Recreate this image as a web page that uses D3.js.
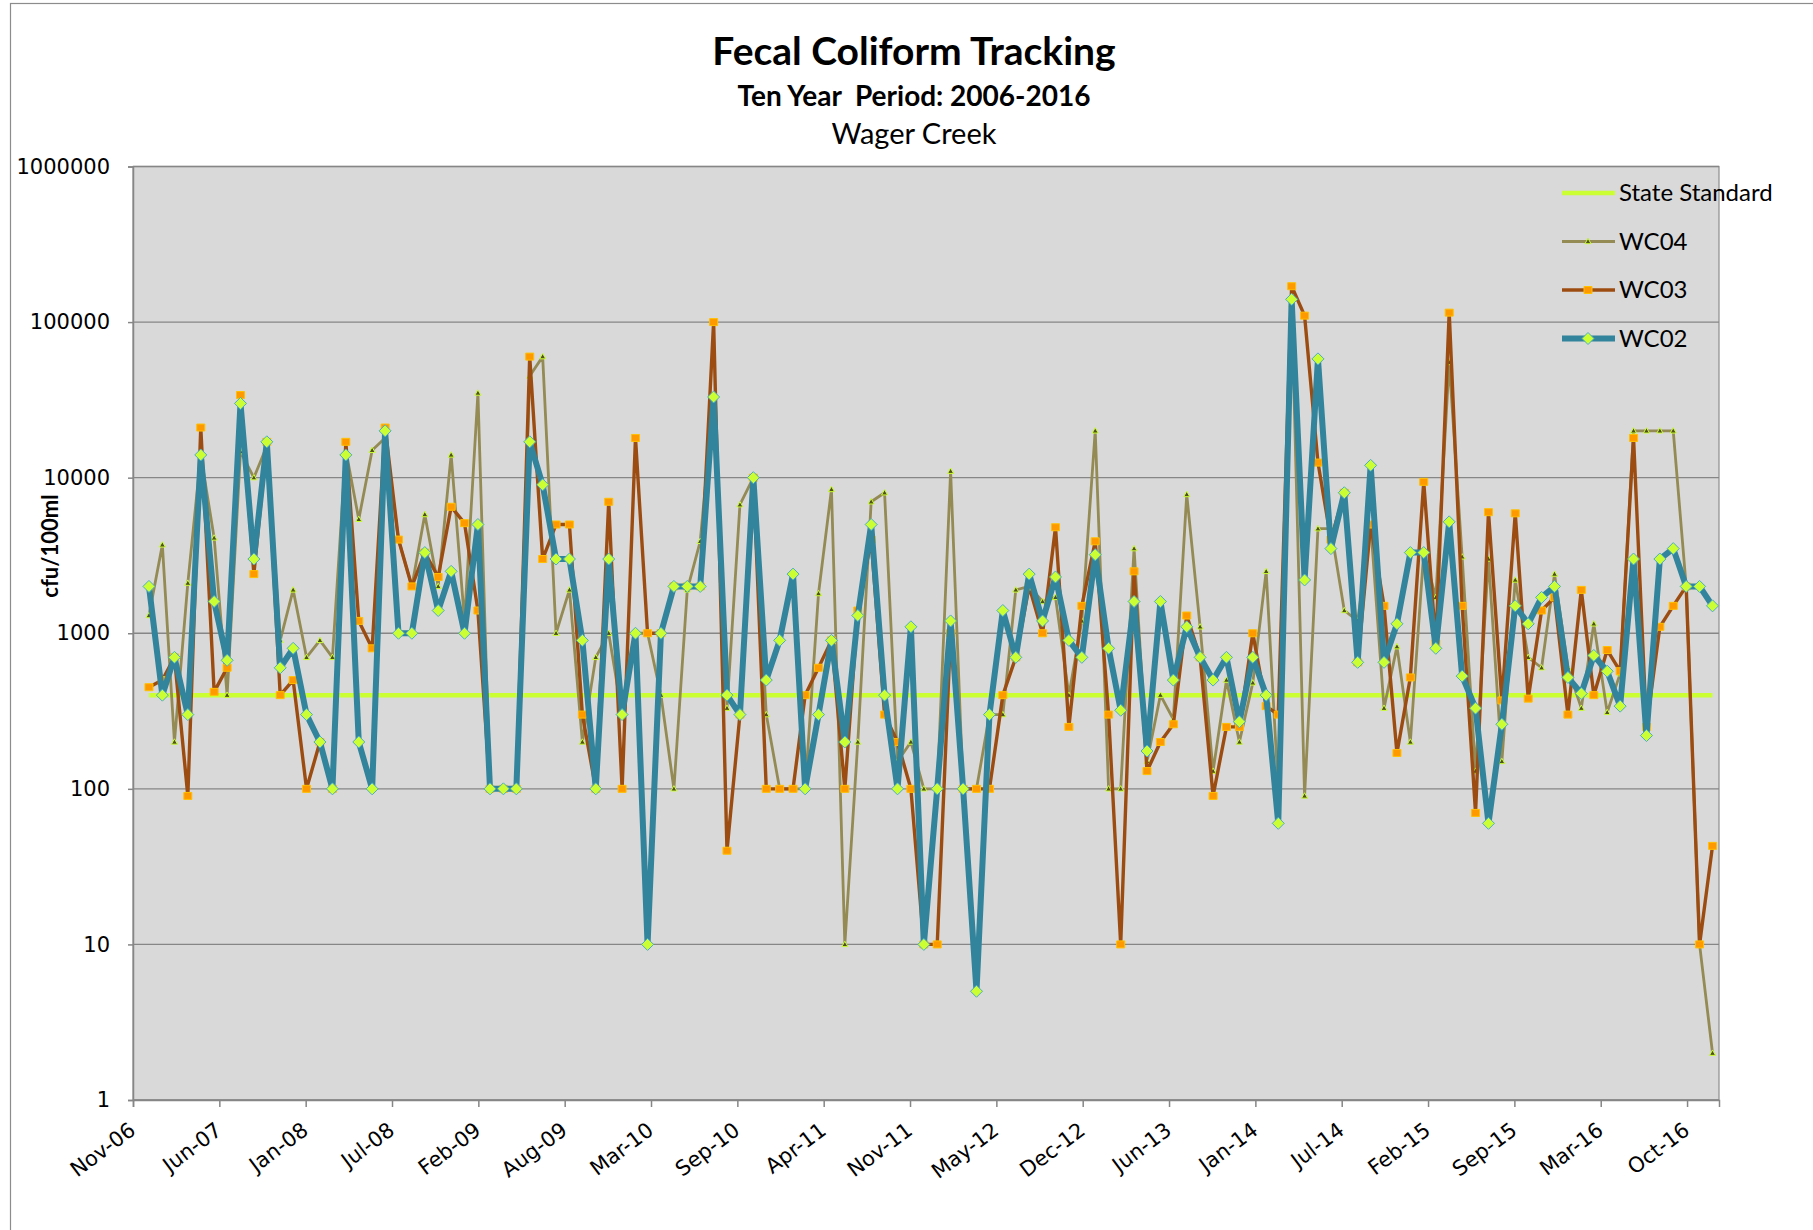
<!doctype html>
<html>
<head>
<meta charset="utf-8">
<script src="https://d3js.org/d3.v7.min.js"></script>
<style>
body { margin: 0; background: #fff; }
svg text { fill: #000; }
</style>
</head>
<body>
<svg id="chart" width="1813" height="1230"></svg>
<script>
// monthly samples, Jan 2007 .. Dec 2016 (cfu/100ml)
var wc02 = [2000, 400, 700, 300, 14000, 1600, 670, 30000, 3000, 17000,
  600, 800, 300, 200, 100, 14000, 200, 100, 20000, 1000,
  1000, 3300, 1400, 2500, 1000, 5000, 100, 100, 100, 17000,
  9000, 3000, 3000, 900, 100, 3000, 300, 1000, 10, 1000,
  2000, 2000, 2000, 33000, 400, 300, 10000, 500, 900, 2400,
  100, 300, 900, 200, 1300, 5000, 400, 100, 1100, 10,
  100, 1200, 100, 5, 300, 1400, 700, 2400, 1200, 2300,
  900, 700, 3200, 800, 320, 1600, 175, 1600, 500, 1100,
  700, 500, 700, 270, 700, 400, 60, 140000, 2200, 58000,
  3500, 8000, 650, 12000, 650, 1150, 3300, 3300, 800, 5200,
  530, 330, 60, 260, 1500, 1150, 1700, 2000, 520, 410,
  720, 570, 340, 3000, 220, 3000, 3500, 2000, 2000, 1500];

var wc03 = [450, 500, 700, 90, 21000, 420, 600, 34000, 2400, 17000,
  400, 500, 100, 200, 100, 17000, 1200, 800, 21000, 4000,
  2000, 3300, 2300, 6500, 5100, 1400, 100, 100, 100, 60000,
  3000, 5000, 5000, 300, 100, 7000, 100, 18000, 1000, 1000,
  2000, 2000, 2000, 100000, 40, 300, 10000, 100, 100, 100,
  400, 600, 900, 100, 1400, 4000, 300, 200, 100, 10,
  10, 1000, 100, 100, 100, 400, 700, 2000, 1000, 4800,
  250, 1500, 3900, 300, 10, 2500, 130, 200, 260, 1300,
  700, 90, 250, 250, 1000, 340, 300, 170000, 110000, 12500,
  4000, 8000, 650, 5000, 1500, 170, 520, 9400, 860, 115000,
  1500, 70, 6000, 370, 5900, 380, 1400, 1700, 300, 1900,
  400, 780, 570, 18000, 250, 1100, 1500, 2000, 10, 43];

var wc04 = [1300, 3700, 200, 2100, 14000, 4100, 400, 14700, 10000, 16000,
  900, 1900, 700, 900, 700, 15000, 5400, 15000, 18000, 4000,
  2000, 5800, 2000, 14000, 1200, 35000, 100, 100, 100, 45000,
  60000, 1000, 1900, 200, 700, 1000, 300, 1000, 1000, 400,
  100, 1900, 3900, 33000, 330, 6700, 10000, 300, 100, 100,
  100, 1800, 8400, 10, 200, 7000, 8000, 150, 200, 100,
  100, 11000, 100, 100, 300, 300, 1900, 2000, 1600, 1700,
  400, 1200, 20000, 100, 100, 3500, 150, 400, 280, 7800,
  1100, 130, 500, 200, 480, 2500, 100, 130000, 90, 4700,
  4700, 1400, 1200, 5000, 330, 820, 200, 3300, 1700, 55000,
  3100, 130, 3000, 150, 2200, 700, 600, 2400, 600, 330,
  1150, 310, 550, 20000, 20000, 20000, 20000, 2000, 10, 2];

var stateStandard = 400;

var xTickLabels = ["Nov-06", "Jun-07", "Jan-08", "Jul-08", "Feb-09", "Aug-09", "Mar-10",
  "Sep-10", "Apr-11", "Nov-11", "May-12", "Dec-12", "Jun-13", "Jan-14", "Jul-14",
  "Feb-15", "Sep-15", "Mar-16", "Oct-16"];
var yTicks = [1, 10, 100, 1000, 10000, 100000, 1000000];

var firstSample = new Date(2007, 0, 4);
var axisStart = new Date(2006, 10, 28);
var axisEnd = new Date(2016, 11, 19);
var tickStepDays = 200;

var dates = wc02.map(function(d, i) { return d3.timeMonth.offset(firstSample, i); });

var svg = d3.select("#chart");
var plot = {left: 133, right: 1719, top: 166.5, bottom: 1100};

var x = d3.scaleTime().domain([axisStart, axisEnd]).range([plot.left, plot.right]);
var y = d3.scaleLog().domain([1, 1000000]).range([plot.bottom, plot.top]);

// chart border
svg.append("rect")
  .attr("x", 10.5).attr("y", 3.5)
  .attr("width", 1900).attr("height", 1400)
  .style("fill", "none").style("stroke", "#8c8c8c").style("stroke-width", 1.2);

// plot area
svg.append("rect")
  .attr("x", plot.left).attr("y", plot.top)
  .attr("width", plot.right - plot.left).attr("height", plot.bottom - plot.top)
  .style("fill", "#d9d9d9").style("stroke", "#8c8c8c").style("stroke-width", 1.2);

svg.append("g").selectAll("line")
  .data(yTicks).enter().append("line")
  .attr("x1", plot.left).attr("x2", plot.right)
  .attr("y1", function(d) { return y(d); }).attr("y2", function(d) { return y(d); })
  .style("stroke", "#868686").style("stroke-width", 1.4);

// axes
var yAxis = svg.append("g")
  .attr("transform", "translate(" + plot.left + ",0)")
  .call(d3.axisLeft(y).tickValues(yTicks).tickFormat(d3.format("d")).tickSize(5).tickPadding(18));
yAxis.selectAll("text").style("font-family", "DejaVu Sans").style("font-size", "21px");

var xTickDates = xTickLabels.map(function(d, i) { return d3.timeDay.offset(axisStart, i * tickStepDays); });
var xAxis = svg.append("g")
  .attr("transform", "translate(0," + plot.bottom + ")")
  .call(d3.axisBottom(x).tickValues(xTickDates)
    .tickFormat(function(d, i) { return xTickLabels[i]; }).tickSize(7));
xAxis.selectAll("text")
  .attr("y", 0).attr("dy", "0.35em")
  .attr("text-anchor", "end")
  .attr("transform", "translate(-1,27) rotate(-37)")
  .style("font-family", "DejaVu Sans").style("font-size", "21px");

svg.selectAll(".domain, .tick line").style("stroke", "#868686").style("stroke-width", 1.5);

// series
var line = d3.line()
  .x(function(d) { return x(d.date); })
  .y(function(d) { return y(d.value); });

function toPoints(values) {
  return values.map(function(v, i) { return {date: dates[i], value: v}; });
}

var diamond = "M0,-6L6,0L0,6L-6,0Z";
var square = "M-4,-3.5H4V3.5H-4Z";
var triangle = "M0,-3.2L3,2.2L-3,2.2Z";

var series = [
  {name: "State Standard", values: wc02.map(function() { return stateStandard; }), color: "#ccff33", width: 4.5, marker: null},
  {name: "WC04", values: wc04, color: "#948a54", width: 2.8, marker: triangle, mfill: "#4f4f1f", mstroke: "#ccff33"},
  {name: "WC03", values: wc03, color: "#9c4c10", width: 3.4, marker: square, mfill: "#ff9900", mstroke: "#ffc000"},
  {name: "WC02", values: wc02, color: "#31849b", width: 6, marker: diamond, mfill: "#ccff33", mstroke: "#4bacc6"}
];

series.forEach(function(s) {
  var pts = toPoints(s.values);
  svg.append("path")
    .datum(pts)
    .attr("d", line)
    .style("fill", "none")
    .style("stroke", s.color)
    .style("stroke-width", s.width)
    .style("stroke-linejoin", "round");
  if (s.marker) {
    svg.append("g").selectAll("path")
      .data(pts).enter().append("path")
      .attr("d", s.marker)
      .attr("transform", function(d) { return "translate(" + x(d.date) + "," + y(d.value) + ")"; })
      .style("fill", s.mfill).style("stroke", s.mstroke).style("stroke-width", 1);
  }
});

// legend
var legend = svg.append("g");
series.forEach(function(s, i) {
  var ly = 193 + i * 48.5;
  legend.append("line")
    .attr("x1", 1562).attr("x2", 1615).attr("y1", ly).attr("y2", ly)
    .style("stroke", s.color).style("stroke-width", s.width);
  if (s.marker) {
    legend.append("path").attr("d", s.marker)
      .attr("transform", "translate(1588," + ly + ")")
      .style("fill", s.mfill).style("stroke", s.mstroke).style("stroke-width", 1);
  }
  legend.append("text")
    .attr("x", 1619).attr("y", ly).attr("dy", "0.35em")
    .style("font-family", "Lato").style("font-size", "24px")
    .text(s.name);
});

// titles
svg.append("text").attr("x", 914).attr("y", 65).attr("text-anchor", "middle")
  .style("font-family", "Lato").style("font-weight", "bold").style("font-size", "39px")
  .text("Fecal Coliform Tracking");
svg.append("text").attr("x", 914).attr("y", 106).attr("text-anchor", "middle")
  .style("font-family", "Lato").style("font-weight", "bold").style("font-size", "28px")
  .style("white-space", "pre")
  .text("Ten Year  Period: 2006-2016");
svg.append("text").attr("x", 914).attr("y", 144).attr("text-anchor", "middle")
  .style("font-family", "Lato").style("font-size", "29px")
  .text("Wager Creek");

svg.append("text")
  .attr("transform", "translate(58,546) rotate(-90)")
  .attr("text-anchor", "middle")
  .style("font-family", "Lato").style("font-weight", "bold").style("font-size", "22px")
  .text("cfu/100ml");
</script>
</body>
</html>
